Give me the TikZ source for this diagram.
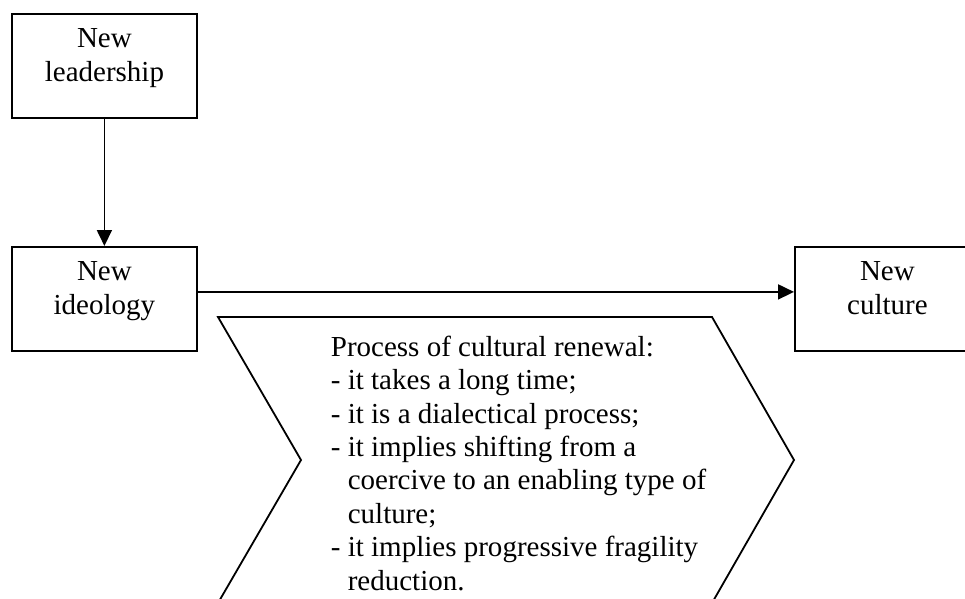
\documentclass[tikz,border=0pt]{standalone}
\usepackage{fontspec}
\setmainfont{Liberation Serif}
\usetikzlibrary{arrows.meta}
\newcommand{\indentdash}{\hphantom{- }}

\begin{document}
\begin{tikzpicture}[x=1pt, y=-1pt, line width=1.8pt,
    box/.style={draw, rectangle, minimum width=185pt, minimum height=104pt, inner sep=0pt, anchor=north west},
    boxtext/.style={align=center, inner sep=0pt, anchor=north, font=\fontsize{29pt}{33.4pt}\selectfont},
    flow/.style={-{Triangle[length=16pt,width=15pt]}}]
    \useasboundingbox (0,0) rectangle (965,598);

    % the three boxes
    \node[box] (leadership) at (11,13) {};
    \node[box] (ideology) at (11,246) {};
    \node[box] (culture) at (794,246) {};

    % box texts, set near the top of each box
    \node[boxtext] (leadershiptext) at ([yshift=-15pt]leadership.north) {New\\leadership};
    \node[boxtext] (ideologytext) at ([yshift=-15pt]ideology.north) {New\\ideology};
    \node[boxtext] (culturetext) at ([yshift=-15pt]culture.north) {New\\culture};

    % arrows between the boxes
    \draw[flow] (leadership) -- (ideology);
    \draw[flow] ([yshift=7pt]ideology.east) -- ([yshift=7pt]culture.west);

    % chevron of the renewal process (runs past the lower edge)
    \draw (218,317) -- (712,317) -- (794,460) -- (712,603) -- (218,603) -- (301,460) -- cycle;

    % text of the renewal process
    \node[anchor=north west, align=left, inner sep=0pt, font=\fontsize{29pt}{33.4pt}\selectfont] (renewal) at (330,335) {%
        Process of cultural renewal:\\
        - it takes a long time;\\
        - it is a dialectical process;\\
        - it implies shifting from a\\
        \indentdash coercive to an enabling type of\\
        \indentdash culture;\\
        - it implies progressive fragility\\
        \indentdash reduction.};
\end{tikzpicture}
\end{document}
